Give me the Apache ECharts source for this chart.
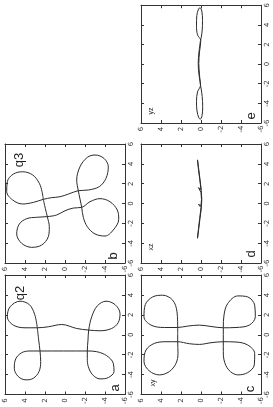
<!DOCTYPE html>
<html><head><meta charset="utf-8">
<script src="https://cdn.jsdelivr.net/npm/echarts@6/dist/echarts.min.js"></script>
<style>html,body{margin:0;padding:0;background:#fff;}#chart{width:273px;height:407px;}</style>
</head><body><div id="chart"></div>
<script>
// axis range shared by all panels
const axisMin = -6, axisMax = 6, axisStep = 2;

// panel a (q2): orbit coordinates (x = horizontal of original, y = vertical of original)
const q2X = [0.7,-0.53,-1.63,-2.7,-3.7,-4.37,-4.53,-4.2,-3.37,-2.43,-1.8,-1.63,-1.63,-1.63,-1.63,-1.7,-2.1,-2.87,-3.7,-4.3,-4.43,-4.03,-3.2,-2.37,-1.63,-0.53,0.47,1.8,2.9,3.37,3.03,2.13,1.23,0.63,0.4,0.47,0.63,1.03,0.8,0.7,0.7,0.97,1.8,2.8,3.37,3.03,2.03,0.7];
const q2Y = [2.77,2.63,2.5,2.43,2.6,3.17,3.9,4.67,5.07,4.93,4.33,3.5,2.5,0.17,-2.23,-3.17,-4.17,-4.83,-4.9,-4.33,-3.5,-2.77,-2.33,-2.23,-2.23,-2.3,-2.37,-2.67,-3.23,-4.1,-5.0,-5.5,-5.33,-4.67,-3.5,-2.37,-1.17,0.33,1.67,2.77,4.0,5.17,5.77,5.5,4.5,3.57,3.03,2.77];

// panel b (q3)
const q3X = [0.42,-0.49,-1.32,-2.34,-3.35,-4.19,-4.42,-4.02,-3.07,-2.07,-1.53,-1.39,-1.32,-1.16,-0.73,-0.46,-0.39,0.18,0.49,0.18,-0.66,-1.6,-2.67,-3.28,-3.07,-2.34,-1.39,-0.39,0.45,1.29,2.36,3.71,4.65,4.89,4.55,3.71,2.54,1.7,1.36,1.29,0.95,0.68,0.59,0.42,0.11,-0.05,0.35,1.2,2.2,2.97,3.2,2.88,2.04,1.2,0.42];
const q3Y = [2.17,1.97,1.77,1.57,1.67,2.33,3.33,4.33,4.83,4.57,3.83,2.83,1.77,0.83,0.0,-0.83,-1.67,-2.5,-3.5,-4.5,-5.23,-5.37,-4.83,-4.0,-3.0,-2.23,-1.83,-1.67,-1.5,-1.33,-1.17,-1.5,-2.23,-3.0,-3.9,-4.33,-4.1,-3.43,-2.33,-1.33,-0.33,0.5,1.33,2.17,3.17,4.23,5.23,5.83,5.77,5.17,4.23,3.23,2.57,2.3,2.17];

// panel c (xy projection)
const xyX = [0.73,0.03,-0.7,-1.87,-2.87,-3.7,-4.03,-3.63,-2.7,-1.53,-0.87,-0.7,-0.7,-0.9,-0.97,-0.8,-0.7,-0.73,-1.03,-1.87,-3.03,-3.8,-4.03,-3.53,-2.53,-1.7,-0.7,0.03,0.7,1.97,3.13,3.9,3.8,2.97,1.8,0.97,0.73,0.7,0.83,0.97,0.87,0.73,0.73,0.97,1.8,3.03,3.8,3.97,3.47,2.3,0.73];
const xyY = [2.33,2.33,2.33,2.3,2.5,3.17,4.17,5.17,5.7,5.5,4.67,3.5,2.33,1.17,0.17,-1.0,-2.23,-3.5,-4.67,-5.37,-5.33,-4.67,-3.67,-2.77,-2.3,-2.23,-2.23,-2.23,-2.23,-2.3,-2.67,-3.67,-4.67,-5.37,-5.43,-4.83,-3.5,-2.23,-1.0,0.17,1.33,2.33,3.67,5.0,5.7,5.57,4.83,3.83,2.83,2.4,2.33];

// panel d (xz projection)
const xzX = [4.4,3.4,2.4,1.4,0.4,-0.6,-1.5,-2.5,-3.5,-2.5,-1.5,-0.4,-0.1,-0.2,0.4,1.1,1.6,1.4,2.4,3.4,4.4];
const xzZ = [0.35,0.22,0.1,-0.02,-0.08,-0.02,0.1,0.22,0.35,0.25,0.13,0.0,0.25,0.0,-0.05,0.0,0.25,0.0,0.12,0.25,0.35];

// panel e (yz projection)
const yzY = [2.41,1.24,0.07,-1.09,-2.16,-2.84,-3.81,-4.78,-5.46,-5.61,-5.27,-4.3,-3.32,-2.55,-2.16,-1.09,0.07,1.24,2.41,2.99,3.96,4.93,5.61,5.75,5.41,4.44,3.47,2.7,2.41];
const yzZ = [0.05,0.2,0.28,0.2,0.05,0.35,0.45,0.4,0.22,0.08,-0.1,-0.17,-0.12,-0.02,0.05,0.15,0.22,0.15,0.02,0.35,0.45,0.42,0.25,0.1,-0.08,-0.15,-0.12,-0.02,0.05];

// texts
const panelLetters = ['a','b','c','d','e'];
const panelTitles = ['q2','q3'];
const planeNames = ['xy','xz','yz'];

// The figure is shown turned a quarter turn: the original horizontal axis runs vertically
// (labelled on the right), the original vertical axis runs horizontally (reversed, at the bottom).
const panels = [
  {grid:{left:5,top:275,width:120,height:120}, h:q2Y, v:q2X, smooth:0.35},
  {grid:{left:5,top:144,width:120,height:119}, h:q3Y, v:q3X, smooth:0.35},
  {grid:{left:141,top:275,width:120,height:120}, h:xyY, v:xyX, smooth:0.35},
  {grid:{left:141,top:144,width:120,height:119}, h:xzZ, v:xzX, smooth:false},
  {grid:{left:141,top:4,width:120,height:119}, h:yzZ, v:yzY, smooth:0.35}
];

const frameColor = '#333';
const lineColor = '#2a2a2a';
const labelStyle = {fontSize:7, color:'#333', fontFamily:'DejaVu Sans'};

const grid = [], xAxis = [], yAxis = [], series = [];
panels.forEach((p, i) => {
  grid.push(Object.assign({show:false, containLabel:false}, p.grid));
  const base = {gridIndex:i, type:'value', min:axisMin, max:axisMax, interval:axisStep,
    splitLine:{show:false},
    axisLine:{show:true, onZero:false, lineStyle:{color:frameColor, width:1}},
    axisTick:{show:true, inside:true, length:3, lineStyle:{color:frameColor, width:1}}};
  xAxis.push(Object.assign({}, base, {position:'bottom', inverse:true,
    axisLabel:Object.assign({show:true, rotate:90, margin:6, align:'center', verticalAlign:'middle'}, labelStyle)}));
  xAxis.push(Object.assign({}, base, {position:'top', inverse:true, axisLabel:{show:false}}));
  yAxis.push(Object.assign({}, base, {position:'right',
    axisLabel:Object.assign({show:true, rotate:90, margin:6, align:'center', verticalAlign:'middle'}, labelStyle)}));
  yAxis.push(Object.assign({}, base, {position:'left', axisLabel:{show:false}}));
  series.push({type:'line', xAxisIndex:2*i, yAxisIndex:2*i, showSymbol:false, symbol:'none',
    smooth:p.smooth, animation:false, clip:true,
    lineStyle:{color:lineColor, width:1},
    data:p.h.map((hv, k) => [hv, p.v[k]])});
});

const R = Math.PI/2;
function txt(s, x, y, size) {
  return {type:'text', x:x, y:y, rotation:R, silent:true,
    style:{text:s, fontSize:size, fontFamily:'Liberation Sans', fill:'#222', align:'center', verticalAlign:'middle'}};
}
const graphic = [
  txt(panelTitles[0], 20, 293, 13),
  txt(panelTitles[1], 19, 160, 13),
  txt(panelLetters[0], 115, 388, 13),
  txt(panelLetters[1], 113, 256, 13),
  txt(panelLetters[2], 250, 389, 13),
  txt(panelLetters[3], 251, 254, 13),
  txt(panelLetters[4], 251, 116, 13),
  txt(planeNames[0], 153, 383, 7),
  txt(planeNames[1], 151, 247, 7),
  txt(planeNames[2], 151, 111, 7)
];

const chart = echarts.init(document.getElementById('chart'), null, {renderer:'canvas'});
chart.setOption({animation:false, grid, xAxis, yAxis, series, graphic});
</script></body></html>
